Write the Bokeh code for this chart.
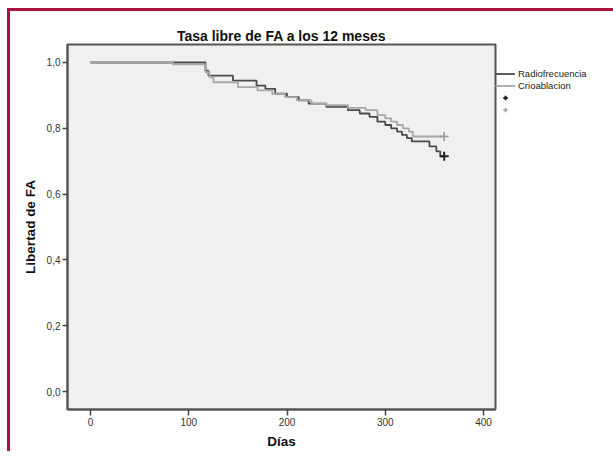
from bokeh.plotting import figure
from bokeh.models import Legend, LegendItem, FixedTicker
from bokeh.embed import file_html
from bokeh.resources import INLINE

# Kaplan-Meier style step data (day at which the value starts, survival value)
rf_days = [0, 117, 120, 145, 169, 178, 188, 200, 212, 222, 240, 262, 274, 284, 292, 300, 306, 312, 317, 322, 327, 345, 352, 356, 360]
rf_surv = [1.0, 0.975, 0.96, 0.945, 0.93, 0.92, 0.905, 0.895, 0.885, 0.875, 0.865, 0.855, 0.845, 0.835, 0.82, 0.81, 0.80, 0.79, 0.78, 0.77, 0.76, 0.745, 0.73, 0.715, 0.715]

cr_days = [0, 84, 117, 121, 125, 150, 170, 185, 198, 210, 225, 240, 262, 280, 292, 300, 306, 312, 318, 324, 328, 360]
cr_surv = [1.0, 0.994, 0.97, 0.955, 0.94, 0.925, 0.915, 0.905, 0.895, 0.885, 0.875, 0.87, 0.862, 0.855, 0.84, 0.83, 0.82, 0.81, 0.80, 0.79, 0.775, 0.775]

censor_rf = ([360], [0.715])
censor_cr = ([360], [0.775])

x_ticks = [0, 100, 200, 300, 400]
y_ticks = [0.0, 0.2, 0.4, 0.6, 0.8, 1.0]
y_tick_labels = ["0,0", "0,2", "0,4", "0,6", "0,8", "1,0"]

series_names = ["Radiofrecuencia", "Crioablacion"]

FONT = "Liberation Sans"

p = figure(
    frame_width=428, frame_height=365,
    x_range=(-23.4, 412.2), y_range=(-0.0547, 1.0547),
    output_backend="svg", toolbar_location=None,
    title="Tasa libre de FA a los 12 meses",
    min_border_left=57, min_border_top=33, min_border_bottom=40, min_border_right=95,
)
p.styles = {"border-left": "3px solid #b01040", "border-top": "3px solid #b01040",
            "margin-left": "7px", "margin-top": "8px"}

p.title.align = "center"
p.title.text_font = FONT
p.title.text_font_size = "14px"
p.title.text_font_style = "bold"
p.title.text_color = "#111111"
p.title.standoff = 2

p.background_fill_color = "#f0f0f0"
p.border_fill_color = "white"
p.outline_line_color = "#555555"
p.outline_line_width = 2
p.xgrid.visible = False
p.ygrid.visible = False

for ax in (p.xaxis, p.yaxis):
    ax.axis_line_color = "#555555"
    ax.axis_line_width = 2
    ax.major_tick_line_color = "#444444"
    ax.major_tick_line_width = 1.5
    ax.major_tick_in = 0
    ax.major_tick_out = 5
    ax.minor_tick_line_color = None
    ax.major_label_text_font = FONT
    ax.major_label_text_font_size = "10px"
    ax.major_label_text_color = "#333333"
    ax.axis_label_text_font = FONT
    ax.axis_label_text_font_size = "13.5px"
    ax.axis_label_text_font_style = "bold"
    ax.axis_label_text_color = "#111111"
    ax.major_label_standoff = 2

p.xaxis.ticker = FixedTicker(ticks=x_ticks)
p.xaxis.major_tick_out = 6
p.xaxis.axis_label = "Días"
p.xaxis.axis_label_standoff = 5
p.yaxis.ticker = FixedTicker(ticks=y_ticks)
p.yaxis.major_label_overrides = {t: l for t, l in zip(y_ticks, y_tick_labels)}
p.yaxis.axis_label = "Libertad de FA"
p.yaxis.axis_label_standoff = 6

r_rf = p.step(rf_days, rf_surv, mode="after", line_color="#4a4a4a", line_width=1.8)
r_cr = p.step(cr_days, cr_surv, mode="after", line_color="#a8a8a8", line_width=1.8)
c_rf = p.scatter(censor_rf[0], censor_rf[1], marker="cross", size=9, line_color="#222222", line_width=2)
c_cr = p.scatter(censor_cr[0], censor_cr[1], marker="cross", size=9, line_color="#999999", line_width=1.5)

legend = Legend(
    items=[
        LegendItem(label=series_names[0], renderers=[r_rf]),
        LegendItem(label=series_names[1], renderers=[r_cr]),
        LegendItem(label=" ", renderers=[c_rf]),
        LegendItem(label=" ", renderers=[c_cr]),
    ],
    location=(0, 294),
    border_line_color=None,
    background_fill_alpha=0,
    label_text_font=FONT,
    label_text_font_size="9.5px",
    label_text_color="#222222",
    glyph_width=20, glyph_height=11, label_height=11,
    spacing=1, padding=0, margin=0, label_standoff=3,
)
p.add_layout(legend, "right")

open("out.html", "w").write(file_html(p, INLINE))
